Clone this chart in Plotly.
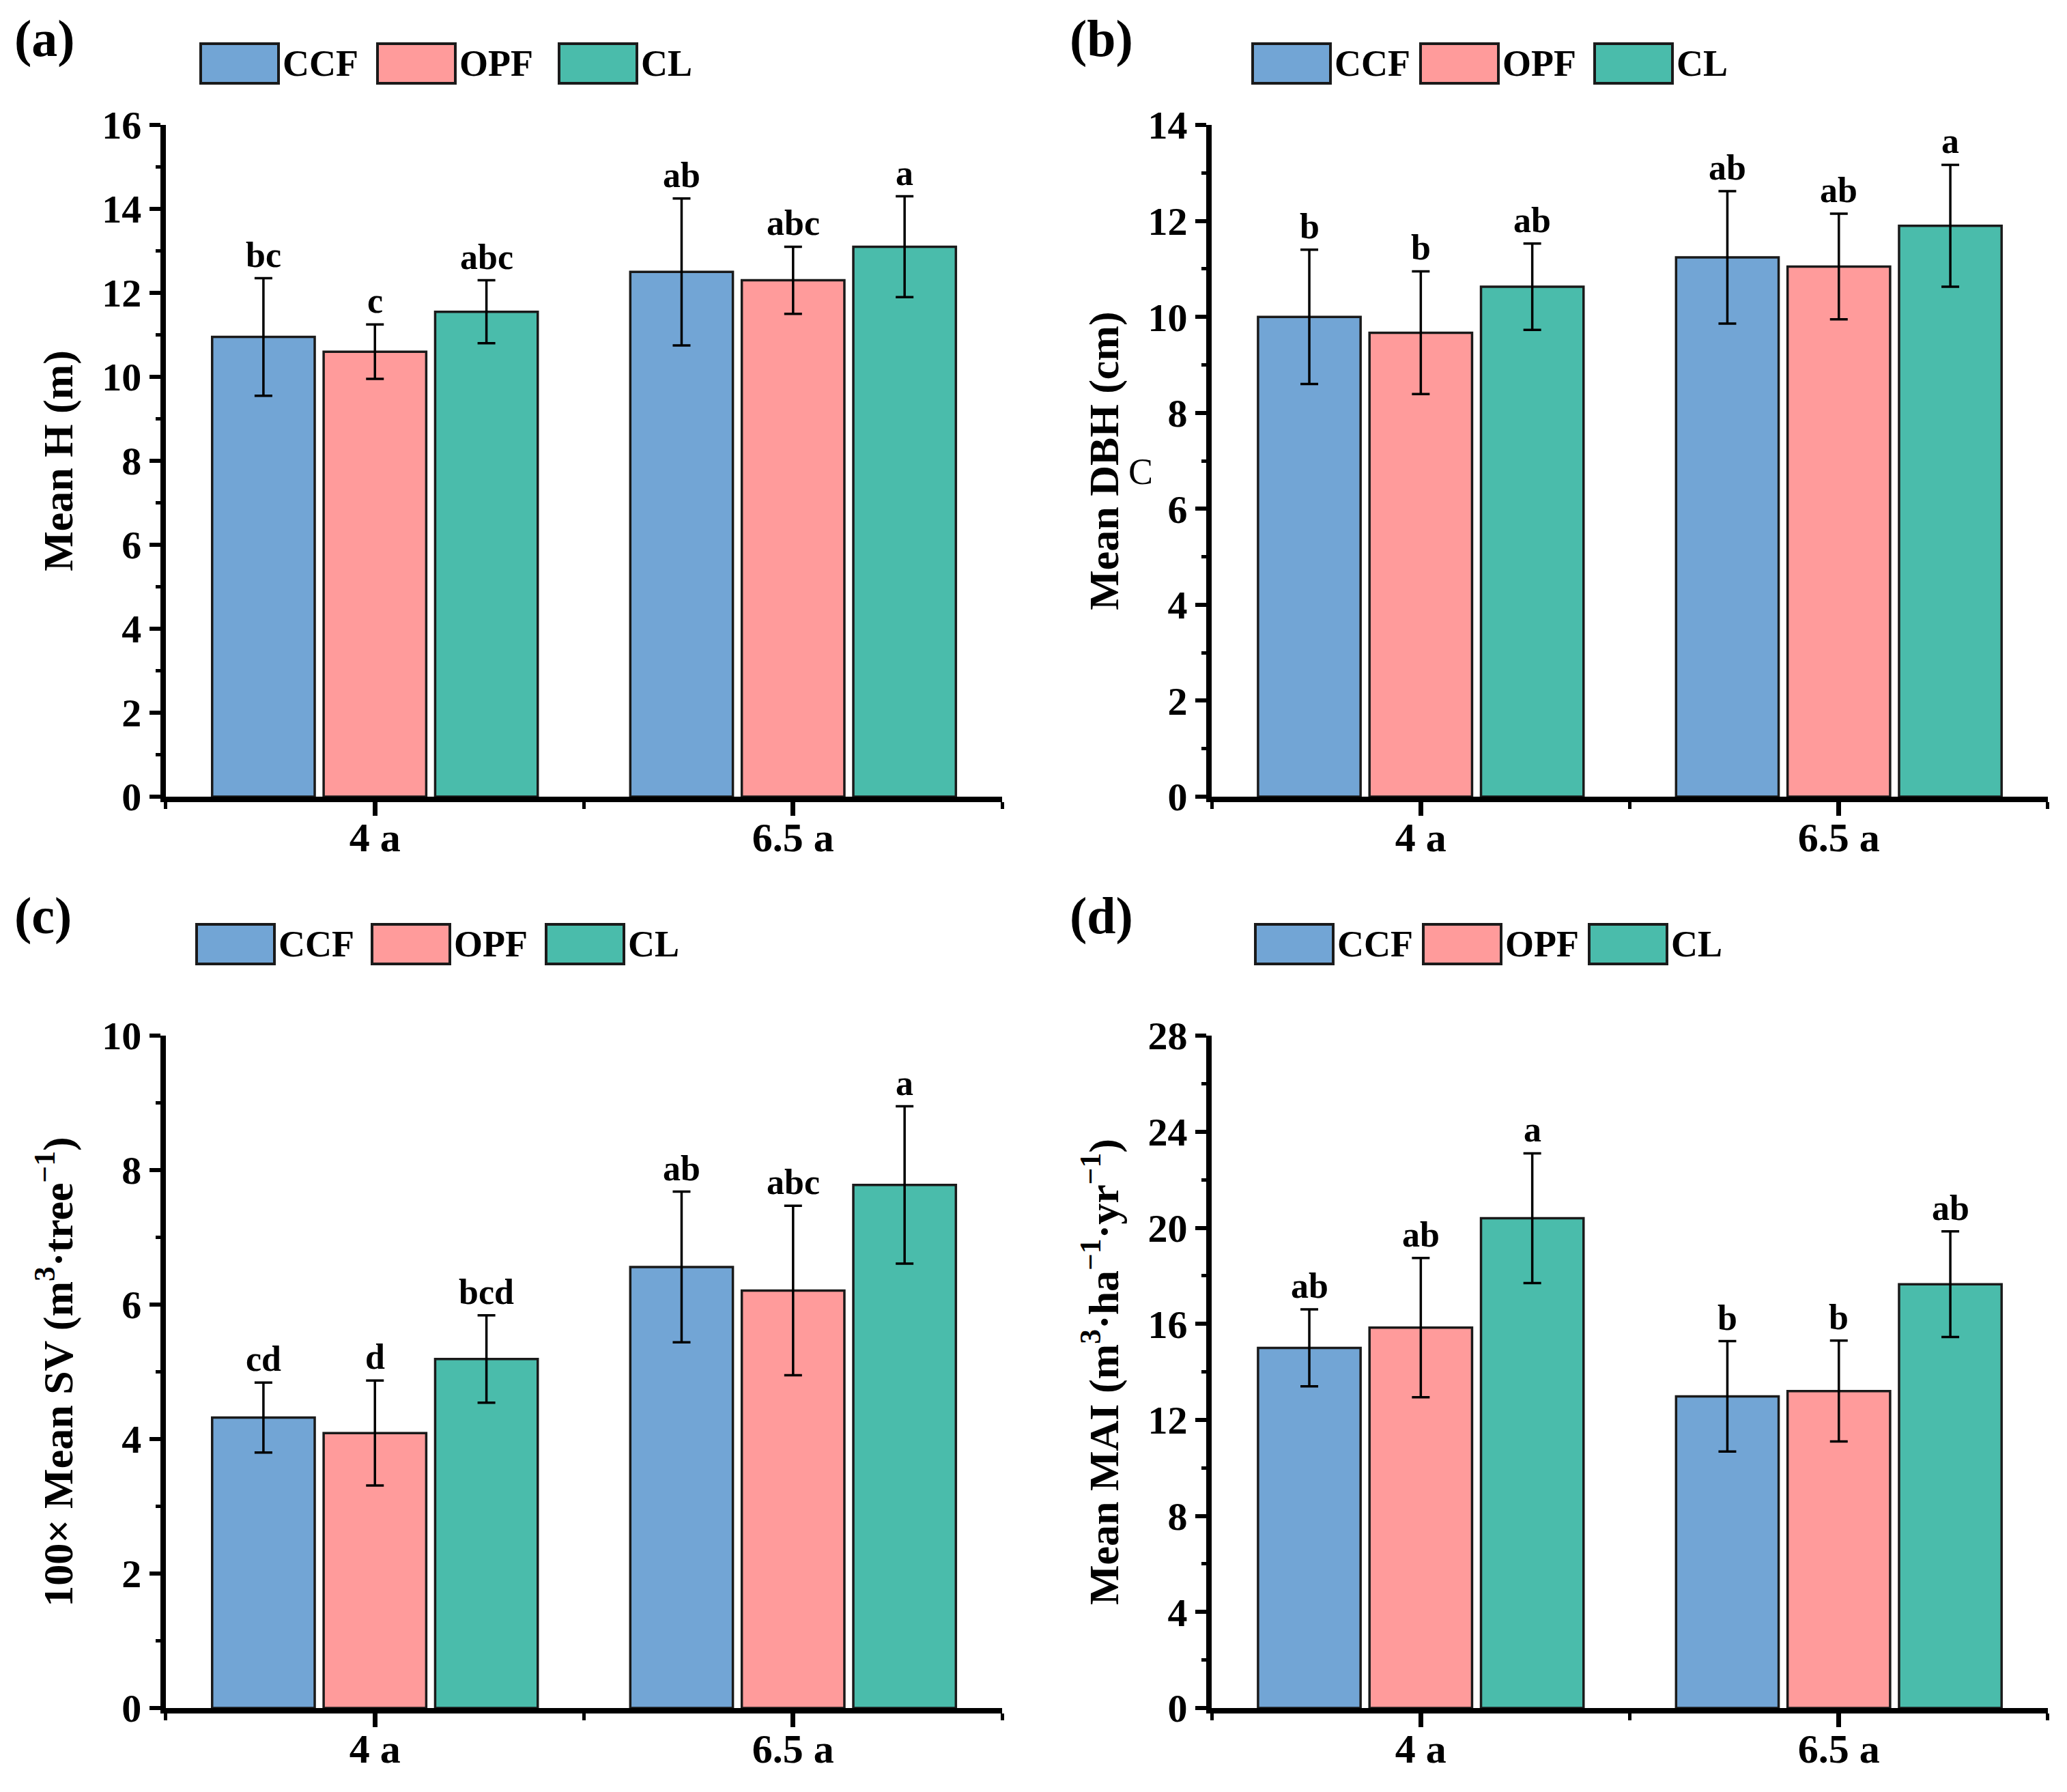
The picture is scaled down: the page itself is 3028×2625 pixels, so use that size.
import plotly.graph_objects as go

W, H = 3028, 2625

ages = ["4 a", "6.5 a"]
sites = ["CCF", "OPF", "CL"]
colors = ["#72A5D5", "#FF9B9B", "#4ABCAB"]

# rows: CCF, OPF, CL ; columns: 4 a, 6.5 a
h_mean = [[10.95, 12.5], [10.6, 12.3], [11.55, 13.1]]
h_err = [[1.4, 1.75], [0.65, 0.8], [0.75, 1.2]]
h_sig = [["bc", "ab"], ["c", "abc"], ["abc", "a"]]

dbh_mean = [[10.0, 11.24], [9.67, 11.05], [10.63, 11.9]]
dbh_err = [[1.4, 1.38], [1.28, 1.1], [0.9, 1.27]]
dbh_sig = [["b", "ab"], ["b", "ab"], ["ab", "a"]]

sv_mean = [[4.32, 6.56], [4.09, 6.21], [5.19, 7.78]]
sv_err = [[0.52, 1.12], [0.78, 1.26], [0.65, 1.17]]
sv_sig = [["cd", "ab"], ["d", "abc"], ["bcd", "a"]]

mai_mean = [[15.0, 12.98], [15.84, 13.2], [20.4, 17.65]]
mai_err = [[1.6, 2.3], [2.9, 2.1], [2.7, 2.2]]
mai_sig = [["ab", "b"], ["ab", "b"], ["a", "ab"]]

FONT = "Liberation Serif"
BARGAP = 0.2

panels = [
    dict(mean=h_mean, err=h_err, sig=h_sig, title="Mean H (m)", ymax=16, dtick=2,
         label="(a)", xd=[0.0776, 0.4822], yd=[0.5585, 0.9333], leg=[286, 545, 811], legy=85),
    dict(mean=dbh_mean, err=dbh_err, sig=dbh_sig, title="Mean DBH (cm)", ymax=14, dtick=2,
         label="(b)", xd=[0.5836, 0.9881], yd=[0.5585, 0.9333], leg=[1827, 2073, 2328], legy=85),
    dict(mean=sv_mean, err=sv_err, sig=sv_sig,
         title="100× Mean SV (m<sup>3</sup>·tree<sup>−1</sup>)", ymax=10, dtick=2,
         label="(c)", xd=[0.0776, 0.4822], yd=[0.0499, 0.4251], leg=[280, 537, 792], legy=1375),
    dict(mean=mai_mean, err=mai_err, sig=mai_sig,
         title="Mean MAI (m<sup>3</sup>·ha<sup>−1</sup>·yr<sup>−1</sup>)", ymax=28, dtick=4,
         label="(d)", xd=[0.5836, 0.9881], yd=[0.0499, 0.4251], leg=[1831, 2077, 2320], legy=1375),
]

fig = go.Figure()
annotations = []
shapes = []
xs = list(range(len(ages)))
slot = (1 - BARGAP) / len(sites)

for p, cfg in enumerate(panels):
    n = "" if p == 0 else str(p + 1)
    for k, site in enumerate(sites):
        fig.add_trace(go.Bar(
            x=xs, y=cfg["mean"][k], name=site, showlegend=False,
            xaxis="x" + n, yaxis="y" + n,
            marker=dict(color=colors[k], line=dict(color="#1a1a1a", width=3.5)),
            error_y=dict(type="data", array=cfg["err"][k], color="black",
                         thickness=3.5, width=13),
        ))
        for i in xs:
            annotations.append(dict(
                x=i + (k - 1) * slot, y=cfg["mean"][k][i] + cfg["err"][k][i],
                xref="x" + n, yref="y" + n, text=cfg["sig"][k][i], showarrow=False,
                yanchor="bottom", yshift=4,
                font=dict(family=FONT, size=52, color="black", weight="bold"),
            ))
        # legend box drawn by hand so it can match the big swatches
        left = cfg["leg"][k]
        shapes.append(dict(
            type="rect", xref="paper", yref="paper",
            x0=left / W, x1=(left + 114) / W,
            y0=1 - (cfg["legy"] + 29) / H, y1=1 - (cfg["legy"] - 29) / H,
            fillcolor=colors[k], line=dict(color="#1a1a1a", width=4),
        ))
        annotations.append(dict(
            x=(left + 118) / W, y=1 - cfg["legy"] / H, xref="paper", yref="paper",
            text=site, showarrow=False, xanchor="left", yanchor="middle",
            font=dict(family=FONT, size=54, color="black", weight="bold"),
        ))

    annotations.append(dict(
        x=(11 if p % 2 == 0 else 1557) / W, y=1 - (4 if p < 2 else 1289) / H,
        xref="paper", yref="paper", text=cfg["label"], showarrow=False,
        xanchor="left", yanchor="top",
        font=dict(family=FONT, size=76, color="black", weight="bold"),
    ))

    fig.update_layout(**{
        "xaxis" + n: dict(
            domain=cfg["xd"], anchor="y" + n, range=[-0.5, len(ages) - 0.5],
            tickmode="array", tickvals=xs, ticktext=ages, automargin=False,
            showline=True, linecolor="black", linewidth=8, showgrid=False,
            zeroline=False, ticks="outside", ticklen=20, tickwidth=7,
            tickcolor="black", ticklabelstandoff=-20,
            minor=dict(tickmode="array", tickvals=[-0.5, 0.5, 1.5], ticks="outside",
                       ticklen=10, tickwidth=5, tickcolor="black"),
            tickfont=dict(family=FONT, size=60, color="black", weight="bold"),
        ),
        "yaxis" + n: dict(
            domain=cfg["yd"], anchor="x" + n, range=[0, cfg["ymax"]], dtick=cfg["dtick"],
            automargin=False,
            showline=True, linecolor="black", linewidth=8, showgrid=False,
            zeroline=False, ticks="outside", ticklen=16, tickwidth=6,
            tickcolor="black",
            minor=dict(dtick=cfg["dtick"] / 2, ticks="outside", ticklen=7,
                       tickwidth=5, tickcolor="black"),
            tickfont=dict(family=FONT, size=58, color="black", weight="bold"),
            title=dict(text=cfg["title"], standoff=26,
                       font=dict(family=FONT, size=62, color="black", weight="bold")),
        ),
    })

# stray letter next to the DBH axis title
annotations.append(dict(
    x=1663 / W, y=1 - 651 / H, xref="paper", yref="paper", text="C",
    showarrow=False, font=dict(family=FONT, size=54, color="black"),
))

fig.update_layout(
    width=W, height=H, barmode="group", bargap=BARGAP, bargroupgap=0.08,
    margin=dict(l=0, r=0, t=0, b=0),
    paper_bgcolor="white", plot_bgcolor="white",
    annotations=annotations, shapes=shapes,
)

fig.write_html("out.html")
